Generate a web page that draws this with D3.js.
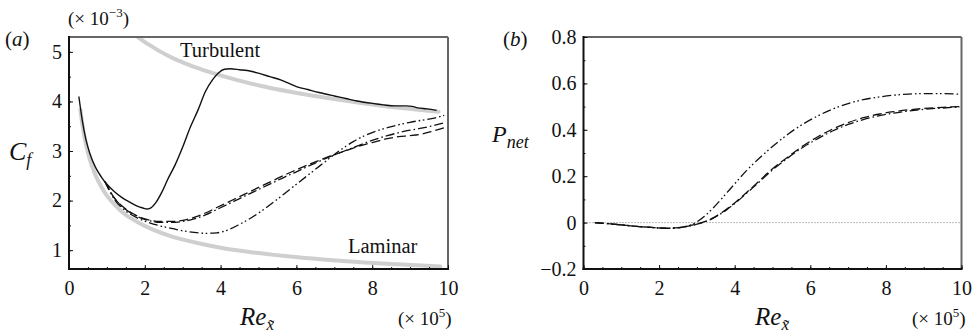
<!DOCTYPE html>
<html>
<head>
<meta charset="utf-8">
<script src="https://cdn.jsdelivr.net/npm/d3@7"></script>
</head>
<body style="margin:0;background:#fff">
<svg id="chart" width="980" height="336" style="display:block"></svg>
<script>
// ---- Panel (a): skin friction coefficient Cf (×10^-3) vs Re_x (×10^5) ----
const cfTicksX = [0, 2, 4, 6, 8, 10];
const cfTicksY = [1, 2, 3, 4, 5];

// turbulent-transition run (solid)
const solidRe = [0.26, 0.35, 0.45, 0.55, 0.7, 0.85, 1.0, 1.2, 1.4, 1.6, 1.8, 1.95, 2.05, 2.15, 2.3, 2.45, 2.6, 2.8, 3.0, 3.2, 3.4, 3.6, 3.8, 3.95, 4.1, 4.25, 4.5, 4.8, 5.0, 5.3, 5.6, 6.0, 6.3, 6.6, 7.0, 7.3, 7.6, 8.0, 8.3, 8.6, 8.9, 9.05, 9.2, 9.45, 9.7];
const solidCf = [4.10, 3.62, 3.22, 2.95, 2.67, 2.48, 2.33, 2.18, 2.06, 1.97, 1.89, 1.85, 1.83, 1.85, 1.97, 2.17, 2.42, 2.72, 3.08, 3.48, 3.82, 4.20, 4.45, 4.58, 4.65, 4.66, 4.64, 4.61, 4.57, 4.50, 4.43, 4.30, 4.24, 4.18, 4.11, 4.06, 4.01, 3.96, 3.93, 3.91, 3.91, 3.90, 3.87, 3.85, 3.82];

// controlled runs share one Re grid
const ctrlRe = [0.95, 1.2, 1.5, 1.8, 2.1, 2.4, 2.7, 3.0, 3.3, 3.6, 3.9, 4.2, 4.5, 4.8, 5.1, 5.4, 5.7, 6.0, 6.3, 6.6, 6.9, 7.2, 7.5, 7.8, 8.1, 8.4, 8.7, 9.0, 9.3, 9.6, 9.9];
const cfDashDotDot = [2.38, 2.02, 1.79, 1.65, 1.56, 1.49, 1.44, 1.39, 1.36, 1.34, 1.35, 1.41, 1.52, 1.65, 1.80, 1.97, 2.15, 2.33, 2.51, 2.69, 2.87, 3.04, 3.19, 3.31, 3.40, 3.47, 3.53, 3.58, 3.62, 3.66, 3.72];
const cfLongDash = [2.38, 2.05, 1.83, 1.69, 1.61, 1.58, 1.58, 1.60, 1.66, 1.75, 1.86, 1.97, 2.08, 2.19, 2.30, 2.41, 2.52, 2.62, 2.72, 2.81, 2.90, 2.98, 3.06, 3.13, 3.19, 3.25, 3.29, 3.31, 3.34, 3.40, 3.47];
const cfDashDot = [2.38, 2.05, 1.82, 1.68, 1.60, 1.56, 1.56, 1.58, 1.63, 1.71, 1.82, 1.93, 2.04, 2.15, 2.26, 2.37, 2.48, 2.58, 2.69, 2.79, 2.89, 2.98, 3.07, 3.16, 3.24, 3.31, 3.37, 3.42, 3.46, 3.51, 3.57];

// reference correlations (grey)
const turbRe = [1.72, 1.9, 2.1, 2.4, 2.7, 3.0, 3.4, 3.8, 4.2, 4.7, 5.2, 5.8, 6.4, 7.0, 7.7, 8.4, 9.1, 9.75];
const turbCf = [5.36, 5.25, 5.15, 5.01, 4.89, 4.79, 4.67, 4.57, 4.48, 4.38, 4.29, 4.20, 4.12, 4.05, 3.97, 3.90, 3.84, 3.79];
const lamRe = [0.3, 0.35, 0.4, 0.5, 0.6, 0.7, 0.85, 1.0, 1.2, 1.5, 1.8, 2.2, 2.7, 3.3, 4.0, 4.8, 5.7, 6.7, 7.8, 8.8, 9.8];
const lamCf = [3.83, 3.55, 3.32, 2.97, 2.71, 2.51, 2.28, 2.10, 1.92, 1.71, 1.57, 1.42, 1.28, 1.16, 1.05, 0.96, 0.88, 0.81, 0.75, 0.71, 0.67];

// ---- Panel (b): net power saving P_net vs Re_x (×10^5) ----
const pTicksX = [0, 2, 4, 6, 8, 10];
const pTicksY = [-0.2, 0, 0.2, 0.4, 0.6, 0.8];
const pRe = [0.3, 0.6, 1.0, 1.4, 1.8, 2.2, 2.5, 2.8, 3.0, 3.2, 3.4, 3.6, 3.8, 4.0, 4.3, 4.6, 5.0, 5.4, 5.8, 6.2, 6.6, 7.0, 7.4, 7.8, 8.2, 8.6, 9.0, 9.5, 9.95];
const pDashDotDot = [0, -0.004, -0.010, -0.016, -0.021, -0.024, -0.022, -0.012, 0.003, 0.027, 0.058, 0.093, 0.130, 0.167, 0.222, 0.270, 0.328, 0.380, 0.424, 0.460, 0.490, 0.513, 0.530, 0.541, 0.549, 0.554, 0.556, 0.556, 0.553];
const pLongDash = [0, -0.004, -0.010, -0.016, -0.021, -0.024, -0.022, -0.014, -0.006, 0.004, 0.018, 0.037, 0.060, 0.085, 0.128, 0.172, 0.232, 0.282, 0.330, 0.370, 0.404, 0.431, 0.452, 0.467, 0.478, 0.486, 0.492, 0.497, 0.500];
const pDashDot = [0, -0.004, -0.010, -0.016, -0.021, -0.025, -0.023, -0.015, -0.007, 0.003, 0.016, 0.035, 0.057, 0.082, 0.124, 0.168, 0.227, 0.278, 0.324, 0.362, 0.396, 0.423, 0.444, 0.460, 0.472, 0.481, 0.488, 0.494, 0.498];

const DASH = { longdash: "9,4", dashdot: "9,3,1.6,3", dashdotdot: "9,3,1.6,2.6,1.6,3" };
const SERIF = '"Liberation Serif"';

const svg = d3.select("#chart").attr("font-family", "Liberation Serif").style("font-family", SERIF);
const zip = (xs, ys) => xs.map((x, i) => [x, ys[i]]);

function serifText(sel) {
  return sel.attr("font-family", "Liberation Serif").style("font-family", SERIF).attr("fill", "#111");
}

function panel(cfg) {
  const x = d3.scaleLinear().domain([0, 10]).range([cfg.left, cfg.right]);
  const y = d3.scaleLinear().domain(cfg.yDomain).range([cfg.bottom, cfg.top]);
  const g = svg.append("g");

  const clipId = "clip-" + cfg.key;
  svg.append("clipPath").attr("id", clipId).append("rect")
    .attr("x", cfg.left).attr("y", cfg.top)
    .attr("width", cfg.right - cfg.left).attr("height", cfg.bottom - cfg.top);
  const plot = g.append("g").attr("clip-path", `url(#${clipId})`);

  const line = d3.line().x(d => x(d[0])).y(d => y(d[1])).curve(d3.curveMonotoneX);

  (cfg.refs || []).forEach(r => {
    plot.append("path").datum(r).attr("d", line)
      .attr("fill", "none").attr("stroke", "#cfcfcf").attr("stroke-width", 4)
      .attr("stroke-linecap", "round");
  });
  if (cfg.zeroLine) {
    plot.append("line")
      .attr("x1", x(0)).attr("x2", x(10)).attr("y1", y(0)).attr("y2", y(0))
      .attr("stroke", "#555").attr("stroke-width", 0.8).attr("stroke-dasharray", "1,2");
  }
  cfg.series.forEach(s => {
    plot.append("path").datum(s.data).attr("d", line)
      .attr("fill", "none").attr("stroke", "#111").attr("stroke-width", s.w || 1.3)
      .attr("stroke-dasharray", s.dash ? DASH[s.dash] : null);
  });

  // frame: left/bottom dark, top/right grey
  g.append("line").attr("x1", cfg.left).attr("x2", cfg.right).attr("y1", cfg.top).attr("y2", cfg.top)
    .attr("stroke", "#666").attr("stroke-width", 2);
  g.append("line").attr("x1", cfg.right).attr("x2", cfg.right).attr("y1", cfg.top).attr("y2", cfg.bottom)
    .attr("stroke", "#666").attr("stroke-width", 2);

  // minor ticks (inward, no labels)
  const xMinor = d3.range(0, 10.01, 0.5);
  const yMinor = d3.range(cfg.yDomain[0], cfg.yDomain[1], cfg.yMinorStep)
    .map(v => Math.round(v / cfg.yMinorStep) * cfg.yMinorStep)
    .filter(v => v >= cfg.yDomain[0] && v <= cfg.yDomain[1]);

  const xm = g.append("g").attr("transform", `translate(0,${cfg.bottom})`)
    .call(d3.axisBottom(x).tickValues(xMinor).tickSize(-2).tickFormat(() => ""));
  const ym = g.append("g").attr("transform", `translate(${cfg.left},0)`)
    .call(d3.axisLeft(y).tickValues(yMinor).tickSize(-2).tickFormat(() => ""));

  // major ticks (inward) with labels outside
  const xA = g.append("g").attr("transform", `translate(0,${cfg.bottom})`)
    .call(d3.axisBottom(x).tickValues(cfg.xTicks).tickSize(-4).tickPadding(12).tickFormat(d => d));
  const yA = g.append("g").attr("transform", `translate(${cfg.left},0)`)
    .call(d3.axisLeft(y).tickValues(cfg.yTicks).tickSize(-4).tickPadding(7).tickFormat(cfg.yFmt));

  [xm, ym, xA, yA].forEach(a => {
    a.attr("font-family", "Liberation Serif").style("font-family", SERIF).attr("font-size", 20);
    a.select(".domain").remove();
    a.selectAll(".tick line").attr("stroke", "#111").attr("stroke-width", 1);
    serifText(a.selectAll(".tick text")).attr("font-size", 20);
  });

  g.append("line").attr("x1", cfg.left).attr("x2", cfg.left).attr("y1", cfg.top - 1).attr("y2", cfg.bottom + 1)
    .attr("stroke", "#111").attr("stroke-width", 2);
  g.append("line").attr("x1", cfg.left - 1).attr("x2", cfg.right + 1).attr("y1", cfg.bottom).attr("y2", cfg.bottom)
    .attr("stroke", "#111").attr("stroke-width", 2);

  return { x, y, g };
}

// ---- draw (a) ----
panel({
  key: "a", left: 69, right: 448, top: 37, bottom: 269,
  yDomain: [0.62, 5.3], yMinorStep: 0.5,
  xTicks: cfTicksX, yTicks: cfTicksY, yFmt: d => d,
  refs: [zip(turbRe, turbCf), zip(lamRe, lamCf)],
  series: [
    { data: zip(solidRe, solidCf), w: 1.4 },
    { data: zip(ctrlRe, cfDashDotDot), dash: "dashdotdot" },
    { data: zip(ctrlRe, cfLongDash), dash: "longdash" },
    { data: zip(ctrlRe, cfDashDot), dash: "dashdot" }
  ]
});

// ---- draw (b) ----
panel({
  key: "b", left: 583.5, right: 961.5, top: 37, bottom: 269,
  yDomain: [-0.2, 0.8], yMinorStep: 0.1, zeroLine: true,
  xTicks: pTicksX, yTicks: pTicksY,
  yFmt: d => d === 0 ? "0" : (d < 0 ? "\u2212" + Math.abs(d).toFixed(1) : d.toFixed(1)),
  series: [
    { data: zip(pRe, pDashDotDot), dash: "dashdotdot" },
    { data: zip(pRe, pLongDash), dash: "longdash" },
    { data: zip(pRe, pDashDot), dash: "dashdot" }
  ]
});

// ---- labels ----
function txt(xp, yp, size) {
  return serifText(svg.append("text").attr("x", xp).attr("y", yp).attr("font-size", size));
}
function panelTag(xp, letter) {
  const t = txt(xp, 46, 21);
  t.append("tspan").text("(");
  t.append("tspan").attr("font-style", "italic").text(letter);
  t.append("tspan").text(")");
}
panelTag(5, "a");
panelTag(503, "b");

function reLabel(xp) {
  const t = txt(xp, 325, 25).attr("font-style", "italic");
  t.append("tspan").text("Re");
  t.append("tspan").attr("font-size", 17).attr("dy", 5).text("x\u0303");
}
reLabel(240);
reLabel(755);

function scaleNote(xp, yp, exp) {
  const t = txt(xp, yp, 19);
  t.append("tspan").text("(\u00d7 10");
  t.append("tspan").attr("font-size", 13).attr("dy", -8).text(exp);
  t.append("tspan").attr("dy", 8).text(")");
}
scaleNote(68, 25, "\u22123");
scaleNote(398, 325, "5");
scaleNote(912, 325, "5");

// Cf
const cf = txt(9, 160, 26).attr("font-style", "italic");
cf.append("tspan").text("C");
cf.append("tspan").attr("font-size", 18).attr("dy", 6).text("f");

// P_net
const pn = txt(492, 142, 24).attr("font-style", "italic");
pn.append("tspan").text("P");
pn.append("tspan").attr("font-size", 18).attr("dy", 6).text("net");

txt(180, 57, 20.5).text("Turbulent");
txt(348, 253, 20.5).text("Laminar");
</script>
</body>
</html>
